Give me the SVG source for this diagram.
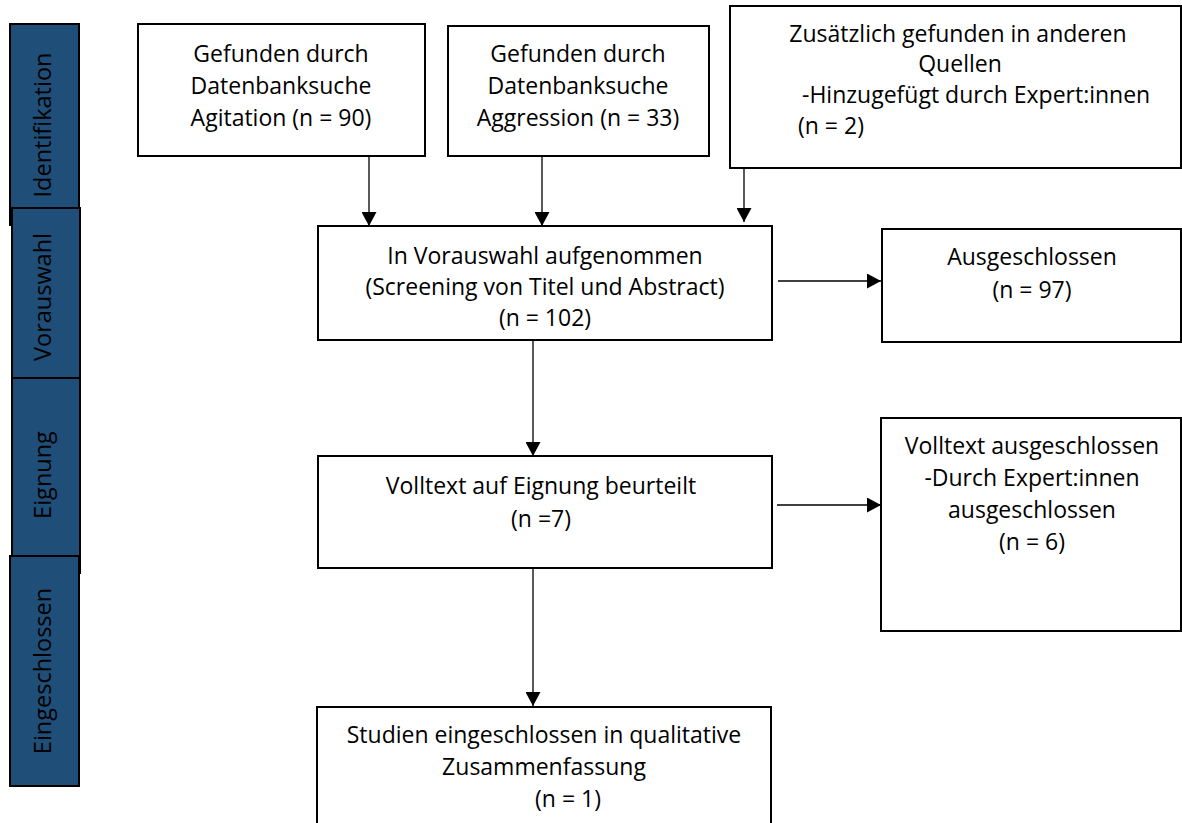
<svg xmlns="http://www.w3.org/2000/svg" width="1182" height="823" viewBox="0 0 1182 823">
<style>
.box{fill:#fff;stroke:#000;stroke-width:2}
.side{fill:#1f4e79;stroke:#000;stroke-width:2}
.t{font-family:"Open Sans","Noto Sans",sans-serif;font-size:23px;fill:#000}
.c{text-anchor:middle}
.st{font-family:"Open Sans","Noto Sans",sans-serif;font-size:23.5px;fill:#000;text-anchor:middle}
.edge{stroke:#000;stroke-width:1.3;fill:none;marker-end:url(#arr)}
</style>
<defs>
<marker id="arr" markerUnits="userSpaceOnUse" markerWidth="15" markerHeight="15" refX="14" refY="7.5" orient="auto">
<path d="M0,0 L14,7.5 L0,15 Z" fill="#000"/>
</marker>
</defs>
<rect width="1182" height="823" fill="#fff"/>
<g id="side-identifikation">
<rect class="side" x="10" y="24" width="69" height="201"/>
</g>
<g id="side-vorauswahl">
<rect class="side" x="12" y="208" width="68" height="189"/>
</g>
<g id="side-eignung">
<rect class="side" x="12" y="378" width="68" height="195"/>
</g>
<g id="side-eingeschlossen">
<rect class="side" x="10" y="556" width="69" height="230"/>
</g>
<g id="side-labels">
<text class="st" transform="translate(51,125) rotate(-90)">Identifikation</text>
<text class="st" transform="translate(51,297) rotate(-90)">Vorauswahl</text>
<text class="st" transform="translate(51,475) rotate(-90)">Eignung</text>
<text class="st" transform="translate(51,671) rotate(-90)">Eingeschlossen</text>
</g>
<g id="connectors">
<line class="edge" x1="369" y1="156" x2="369" y2="226"/>
<line class="edge" x1="542" y1="156" x2="542" y2="226"/>
<line class="edge" x1="744" y1="168" x2="744" y2="222"/>
<line class="edge" x1="778" y1="281" x2="881" y2="281"/>
<line class="edge" x1="533" y1="340" x2="533" y2="456"/>
<line class="edge" x1="777" y1="505" x2="881" y2="505"/>
<line class="edge" x1="533" y1="568" x2="533" y2="706"/>
</g>
<g id="node-agitation">
<rect class="box" x="138" y="24" width="287" height="132"/>
<text class="t c" x="281" y="62">Gefunden durch</text>
<text class="t c" x="281" y="94">Datenbanksuche</text>
<text class="t c" x="281" y="126">Agitation (n = 90)</text>
</g>
<g id="node-aggression">
<rect class="box" x="448" y="26" width="261" height="130"/>
<text class="t c" x="578" y="62">Gefunden durch</text>
<text class="t c" x="578" y="94">Datenbanksuche</text>
<text class="t c" x="578" y="126">Aggression (n = 33)</text>
</g>
<g id="node-zusaetzlich">
<rect class="box" x="730" y="6" width="451" height="162"/>
<text class="t c" x="958" y="42">Zusätzlich gefunden in anderen</text>
<text class="t c" x="960" y="72">Quellen</text>
<text class="t" x="802" y="103">-Hinzugefügt durch Expert:innen</text>
<text class="t" x="798" y="134">(n = 2)</text>
</g>
<g id="node-vorauswahl">
<rect class="box" x="318" y="226" width="454" height="114"/>
<text class="t c" x="545" y="264">In Vorauswahl aufgenommen</text>
<text class="t c" x="545" y="295">(Screening von Titel und Abstract)</text>
<text class="t c" x="545" y="326">(n = 102)</text>
</g>
<g id="node-ausgeschlossen">
<rect class="box" x="882" y="229" width="299" height="113"/>
<text class="t c" x="1032" y="265">Ausgeschlossen</text>
<text class="t c" x="1032" y="298">(n = 97)</text>
</g>
<g id="node-volltext">
<rect class="box" x="318" y="456" width="454" height="112"/>
<text class="t c" x="541" y="494">Volltext auf Eignung beurteilt</text>
<text class="t c" x="541" y="527">(n =7)</text>
</g>
<g id="node-volltext-ausgeschlossen">
<rect class="box" x="881" y="418" width="300" height="213"/>
<text class="t c" x="1032" y="454">Volltext ausgeschlossen</text>
<text class="t c" x="1032" y="486">-Durch Expert:innen</text>
<text class="t c" x="1032" y="518">ausgeschlossen</text>
<text class="t c" x="1032" y="550">(n = 6)</text>
</g>
<g id="node-studien">
<rect class="box" x="317" y="707" width="454" height="130"/>
<text class="t c" x="544" y="743">Studien eingeschlossen in qualitative</text>
<text class="t c" x="544" y="775">Zusammenfassung</text>
<text class="t c" x="568" y="807">(n = 1)</text>
</g>
</svg>
